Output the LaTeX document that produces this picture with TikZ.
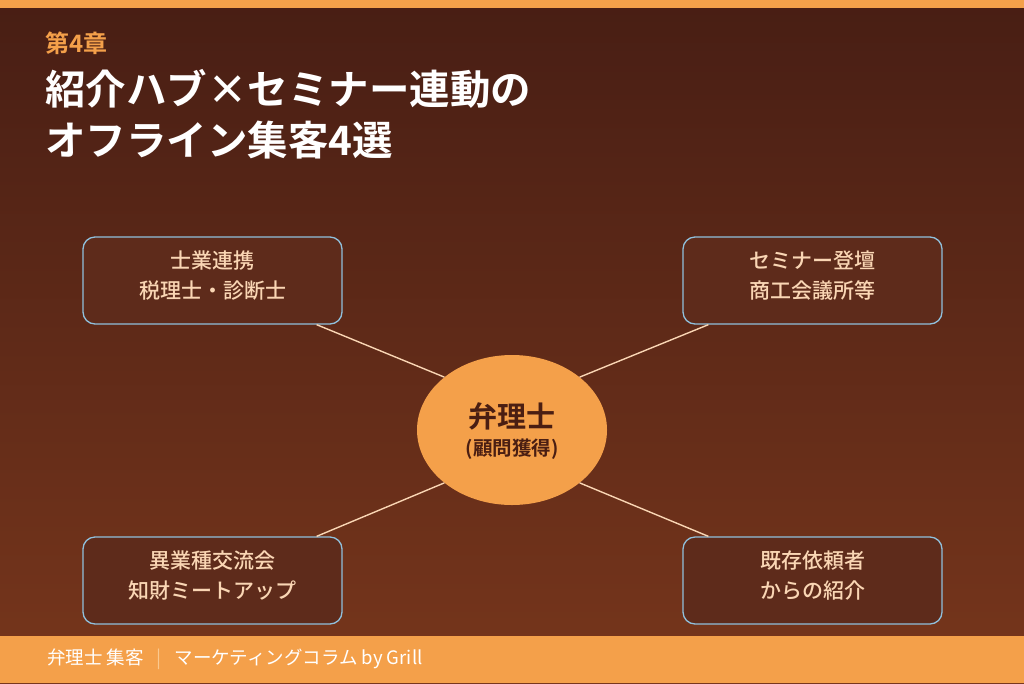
\documentclass[tikz,border=0pt]{standalone}
\usepackage{fontspec}
\setmainfont{Noto Sans CJK JP}
\newfontfamily\cjkbold{Noto Sans CJK JP Bold}
\newfontfamily\cjkmed{Noto Sans CJK JP Medium}
\usetikzlibrary{shapes.geometric,calc}
\definecolor{accent}{HTML}{F4A04A}
\definecolor{bgtop}{HTML}{481E14}
\definecolor{bgbot}{HTML}{77361C}
\definecolor{boxfill}{HTML}{5E2B1B}
\definecolor{boxline}{HTML}{90C0DC}
\definecolor{peach}{HTML}{FAD6B4}
\definecolor{darkbrown}{HTML}{4A1E12}
\definecolor{sepcol}{HTML}{FBC98E}
\tikzset{
  boxnode/.style={draw=boxline, line width=1.3pt, fill=boxfill, rounded corners=12pt,
    minimum width=259pt, minimum height=87pt},
  boxtext/.style={align=center, text=peach, inner sep=0pt,
    font=\cjkmed\fontsize{21}{30}\selectfont},
  hub/.style={ellipse, fill=accent, minimum width=190pt, minimum height=150pt, inner sep=0pt},
  hubtext/.style={align=center, text=darkbrown, inner sep=0pt, font=\cjkbold\fontsize{19.5}{28}\selectfont},
  link/.style={draw=peach, line width=1.4pt},
  titletext/.style={anchor=west, text=white, inner sep=0pt, font=\cjkbold\fontsize{40.5}{42}\selectfont}
}
\begin{document}
\begin{tikzpicture}[x=1pt,y=-1pt]
\useasboundingbox (0,0) rectangle (1024,683);
\shade[top color=bgtop, bottom color=bgbot] (0,0) rectangle (1024,683);
\fill[accent] (0,0) rectangle (1024,8);
\fill[accent] (0,636) rectangle (1024,683);
% title
\node[anchor=west, inner sep=0pt, text=accent, font=\cjkbold\fontsize{24}{26}\selectfont] (chap) at (45,43) {第4章};
\node[titletext] (t1) at (45,89) {紹介ハブ×セミナー連動の};
\node[titletext] (t2) at (45,140) {オフライン集客4選};
% boxes
\node[boxnode] (tl) at (212.5,280.5) {};
\node[boxnode] (tr) at (812.5,280.5) {};
\node[boxnode] (bl) at (212.5,580.5) {};
\node[boxnode] (br) at (812.5,580.5) {};
\node[boxtext] (tlt) at (212.5,276) {士業連携\\税理士・診断士};
\node[boxtext] (trt) at (812.5,276) {セミナー登壇\\商工会議所等};
\node[boxtext] (blt) at (212.5,576) {異業種交流会\\知財ミートアップ};
\node[boxtext] (brt) at (812.5,576) {既存依頼者\\からの紹介};
% hub
\node[hub] (hubn) at (512,430) {};
\node[hubtext] (hubt) at (512,431) {{\fontsize{29}{28}\selectfont 弁理士}\\(顧問獲得)};
% connectors
\coordinate (ptl) at ($(tl.south west)!0.9!(tl.south east)$);
\coordinate (ptr) at ($(tr.south west)!0.1!(tr.south east)$);
\coordinate (pbl) at ($(bl.north west)!0.9!(bl.north east)$);
\coordinate (pbr) at ($(br.north west)!0.1!(br.north east)$);
\draw[link] (ptl) -- (hubn.142);
\draw[link] (ptr) -- (hubn.38);
\draw[link] (pbl) -- (hubn.218);
\draw[link] (pbr) -- (hubn.322);
% footer
\node[anchor=west, inner sep=0pt, text=white, font=\fontsize{18.5}{20}\selectfont] (foot) at (47,659)
  {弁理士 集客\hspace{0.7em}\textcolor{sepcol}{|}\hspace{0.7em}マーケティングコラム by Grill};
\end{tikzpicture}
\end{document}
